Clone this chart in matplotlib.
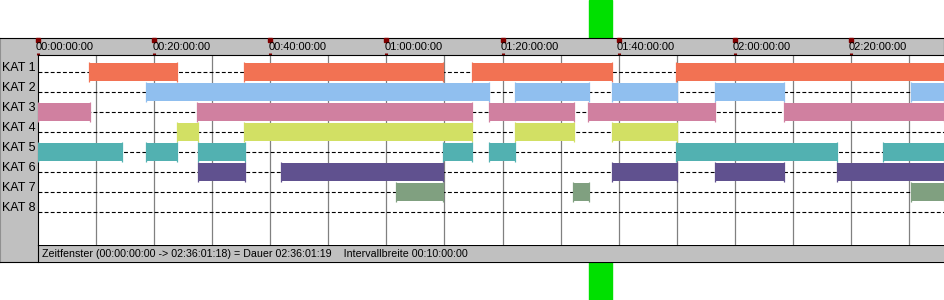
import matplotlib.pyplot as plt
from matplotlib.patches import Rectangle
from matplotlib.transforms import offset_copy

plt.rcParams["font.family"] = ["Liberation Sans", "DejaVu Sans"]
plt.rcParams["lines.scale_dashes"] = False

# time in minutes from the start of the window
total_minutes = 156.02
categories = ["KAT 1", "KAT 2", "KAT 3", "KAT 4", "KAT 5", "KAT 6", "KAT 7", "KAT 8"]
kat1 = [(8.8, 24.0), (35.5, 69.8), (74.7, 98.9), (109.9, 156.02)]
kat2 = [(18.6, 77.7), (82.1, 94.9), (98.8, 110.0), (116.5, 128.5), (150.3, 156.02)]
kat3 = [(0.0, 9.0), (27.4, 74.8), (77.6, 92.3), (94.8, 116.6), (128.5, 156.02)]
kat4 = [(23.9, 27.5), (35.5, 74.8), (82.1, 92.3), (98.8, 110.0)]
kat5 = [(0.0, 14.4), (18.6, 24.0), (27.5, 35.6), (69.7, 74.8), (77.7, 82.2),
        (109.9, 137.6), (145.6, 156.02)]
kat6 = [(27.5, 35.6), (41.9, 69.8), (98.8, 110.0), (116.6, 128.5), (137.6, 156.02)]
kat7 = [(61.7, 69.8), (92.1, 94.9), (150.3, 156.02)]
kat8 = []
intervals = [kat1, kat2, kat3, kat4, kat5, kat6, kat7, kat8]
colors = ["#F27253", "#90BFEF", "#D080A0", "#D2E064", "#52B1B1", "#60518F", "#80A080", "#808080"]

header_ticks = [0, 20, 40, 60, 80, 100, 120, 140]
header_labels = ["00:00:00:00", "00:20:00:00", "00:40:00:00", "01:00:00:00",
                 "01:20:00:00", "01:40:00:00", "02:00:00:00", "02:20:00:00"]
grid_ticks = [10, 20, 30, 40, 50, 60, 70, 80, 90, 100, 110, 120, 130, 140, 150]
footer = ("Zeitfenster (00:00:00:00 -> 02:36:01:18) = Dauer 02:36:01:19    "
          "Intervallbreite 00:10:00:00")

W, H = 945, 300


def box(x0, y0, x1, y1):
    return [x0 / W, 1 - y1 / H, (x1 - x0) / W, (y1 - y0) / H]


fig = plt.figure(figsize=(9.45, 3.0), dpi=100)

# green cursor strip behind the panel
fig.add_artist(Rectangle((589 / W, 0), 23 / W, 1, transform=fig.transFigure,
                         color="#00E000", zorder=0))

# gray frame
bg = fig.add_axes(box(0, 38, 944.5, 262), zorder=1)
bg.set_facecolor("#C0C0C0")
bg.set_xticks([])
bg.set_yticks([])
for side in ["top", "bottom", "right"]:
    bg.spines[side].set_color("black")
bg.spines["left"].set_color("#909090")

# footer
ft = fig.add_axes(box(38, 245, 944.5, 262), zorder=2)
ft.set_facecolor("#C0C0C0")
ft.set_xticks([])
ft.set_yticks([])
for side in ["bottom", "right"]:
    ft.spines[side].set_visible(False)
ft.text(4 / 906, 0.45, footer, transform=ft.transAxes, ha="left", va="center", fontsize=7.7)

# main chart
ax = fig.add_axes(box(38, 55, 944, 245), zorder=3)
ax.set_xlim(0, total_minutes)
n = len(categories)
ax.set_ylim(n + 0.65, -0.85)
ax.set_yticks([])
ax.spines["right"].set_visible(False)
ax.spines["bottom"].set_visible(False)

ax.xaxis.tick_top()
ax.set_xticks(header_ticks)
ax.set_xticklabels([])
ax.tick_params(axis="x", direction="out", length=1.6, width=2.2, color="#800000")

ax.vlines(grid_ticks, -0.85, n + 0.65, colors="#808080", lw=0.9, zorder=1)
ax.hlines(range(n), 0, total_minutes, colors="black", lw=0.8,
          linestyles=(0, (2.8, 1.6)), zorder=2)

for i, (segs, c) in enumerate(zip(intervals, colors)):
    if not segs:
        continue
    ax.broken_barh([(a, b - a) for a, b in segs], (i - 0.46, 0.92),
                   facecolors=c, edgecolors="none", zorder=3)
    ends = [a for a, b in segs] + [b for a, b in segs]
    ax.vlines(ends, i - 0.5, i + 0.5, colors=c, lw=0.9, zorder=3)

# header labels and top markers
xtr = ax.get_xaxis_transform()
lab_tr = offset_copy(xtr, fig=fig, x=-2, units="dots")
for t, lab in zip(header_ticks, header_labels):
    ax.text(t, 1 + 7.5 / 190, lab, transform=lab_tr, ha="left", va="center",
            fontsize=8, clip_on=False)
ax.plot(header_ticks, [1 + 15.5 / 190] * len(header_ticks), "s", ms=2.2,
        color="#800000", transform=xtr, clip_on=False)

# row labels
for i, name in enumerate(categories):
    ax.text(-36 / 906, i - 0.2, name, transform=ax.get_yaxis_transform(),
            ha="left", va="center", fontsize=9, clip_on=False)

fig.savefig("out.png", dpi=100)
